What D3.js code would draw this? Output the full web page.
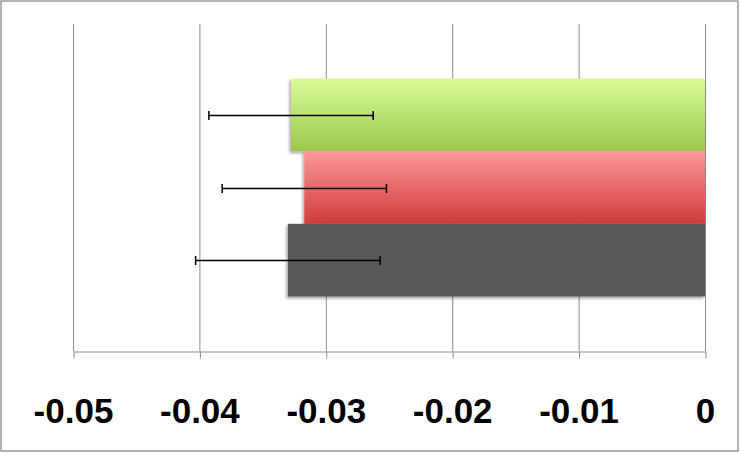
<!DOCTYPE html>
<html><head><meta charset="utf-8">
<script src="https://cdn.jsdelivr.net/npm/d3@7"></script>
<style>html,body{margin:0;padding:0;background:#fff;}svg{display:block;}</style>
</head><body>
<script>
// Data (top to bottom as drawn)
const series = ["Series3", "Series2", "Series1"];
const values = [-0.03275, -0.0317, -0.0330];
const errors = [0.0065, 0.0065, 0.0073];
const tickValues = [-0.05, -0.04, -0.03, -0.02, -0.01, 0];
const tickLabels = ["-0.05", "-0.04", "-0.03", "-0.02", "-0.01", "0"];

const W = 740, H = 453;
const svg = d3.select("body").append("svg").attr("width", W).attr("height", H);

const defs = svg.append("defs");
const grads = [
  {id: "gGreen", top: "#dbfc9c", bot: "#9cc74a"},
  {id: "gRed", top: "#fc9898", bot: "#d23b3b"},
  {id: "gGray", top: "#595959", bot: "#595959"}
];
grads.forEach(g => {
  const lg = defs.append("linearGradient").attr("id", g.id).attr("x1", 0).attr("y1", 0).attr("x2", 0).attr("y2", 1);
  lg.append("stop").attr("offset", "0%").attr("stop-color", g.top);
  lg.append("stop").attr("offset", "100%").attr("stop-color", g.bot);
});
const f = defs.append("filter").attr("id", "shadow").attr("x", "-10%").attr("y", "-10%").attr("width", "120%").attr("height", "130%");
f.append("feDropShadow").attr("dx", -1.5).attr("dy", 2).attr("stdDeviation", 1.5).attr("flood-color", "#000").attr("flood-opacity", 0.35);

// outer border
svg.append("rect").attr("x", 1).attr("y", 1).attr("width", W - 3).attr("height", H - 3)
  .attr("fill", "#fff").attr("stroke", "#9a9a9a").attr("stroke-width", 1.5);

const x = d3.scaleLinear().domain([-0.05, 0]).range([73, 705]);
const plotTop = 24, plotBot = 351;
const y = d3.scaleBand().domain(series).range([plotTop + 54.5, plotBot - 54.5]).padding(0);

// gridlines
svg.append("g").selectAll("line").data(tickValues).join("line")
  .attr("x1", d => x(d) + 0.5).attr("x2", d => x(d) + 0.5)
  .attr("y1", plotTop).attr("y2", plotBot)
  .attr("stroke", "#8c8c8c").attr("stroke-width", 1);

// axis
const axis = d3.axisBottom(x).tickValues(tickValues).tickSize(7).tickSizeOuter(0)
  .tickFormat((d, i) => tickLabels[i]);
const gAx = svg.append("g").attr("transform", `translate(0.5,${plotBot + 0.5})`).call(axis);
gAx.select(".domain").attr("stroke", "#8c8c8c");
gAx.selectAll(".tick line").attr("stroke", "#8c8c8c");
gAx.selectAll(".tick text")
  .attr("y", 0).attr("dy", 0)
  .attr("transform", "translate(-0.5,71)")
  .attr("font-family", "Liberation Sans, Arial, sans-serif")
  .attr("font-weight", "bold").attr("font-size", 35).attr("fill", "#000");

// bars
const fills = ["url(#gGreen)", "url(#gRed)", "url(#gGray)"];
svg.append("g").selectAll("rect").data(values).join("rect")
  .attr("x", d => x(d)).attr("width", d => x(0) - x(d))
  .attr("y", (d, i) => y(series[i])).attr("height", y.bandwidth())
  .attr("fill", (d, i) => fills[i]).attr("filter", "url(#shadow)");

// error bars
const eg = svg.append("g").attr("stroke", "#000").attr("stroke-width", 1.5);
values.forEach((v, i) => {
  const cy = Math.round(y(series[i]) + y.bandwidth() / 2) + 0.5;
  const x1 = x(v - errors[i]), x2 = x(v + errors[i]);
  eg.append("line").attr("x1", x1).attr("x2", x2).attr("y1", cy).attr("y2", cy);
  eg.append("line").attr("x1", x1).attr("x2", x1).attr("y1", cy - 4.5).attr("y2", cy + 4.5);
  eg.append("line").attr("x1", x2).attr("x2", x2).attr("y1", cy - 4.5).attr("y2", cy + 4.5);
});
</script>
</body></html>
